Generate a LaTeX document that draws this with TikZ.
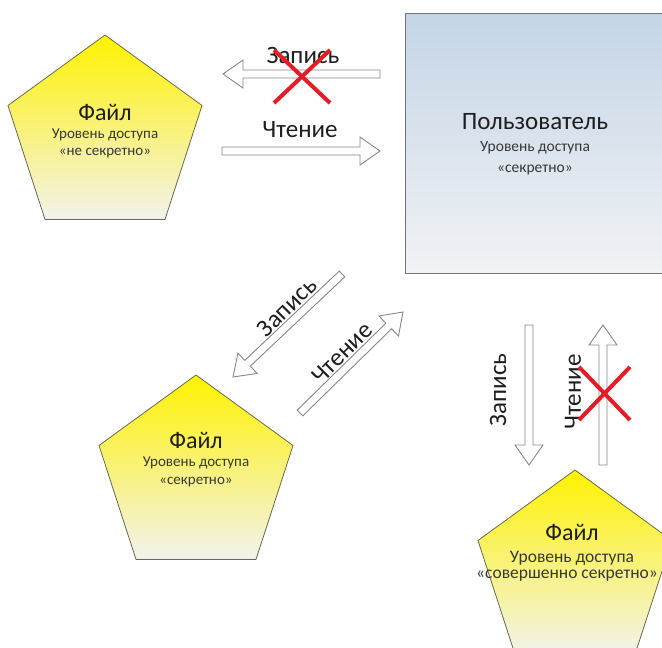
\documentclass[tikz,border=0pt]{standalone}
\usepackage{fontspec}
\setmainfont{Carlito}
\usetikzlibrary{shapes.geometric,calc}

\definecolor{fileTop}{RGB}{255,242,0}
\definecolor{fileMid}{RGB}{247,242,105}
\definecolor{fileBot}{RGB}{242,242,238}
\definecolor{fileEdge}{RGB}{105,105,80}
\definecolor{userTop}{RGB}{196,213,230}
\definecolor{userBot}{RGB}{241,242,244}
\definecolor{userEdge}{RGB}{115,115,115}
\definecolor{arrowEdge}{RGB}{135,135,135}
\definecolor{crossRed}{RGB}{228,28,38}
\definecolor{ink}{RGB}{30,30,30}
\definecolor{subink}{RGB}{55,55,55}

\tikzset{
  filebox/.style={regular polygon, regular polygon sides=5, minimum size=204pt,
    inner sep=0pt, outer sep=0pt, draw=fileEdge, line width=0.8pt,
    top color=fileTop, middle color=fileMid, bottom color=fileBot},
  userbox/.style={rectangle, minimum width=265pt, minimum height=260pt,
    inner sep=0pt, outer sep=0pt, draw=userEdge, line width=1pt,
    top color=userTop, bottom color=userBot},
  title/.style={font=\fontsize{24}{28}\selectfont, text=ink, inner sep=0pt},
  bigtitle/.style={font=\fontsize{25}{30}\selectfont, text=ink, inner sep=0pt},
  sub/.style={font=\fontsize{15}{18}\selectfont, text=subink, inner sep=0pt},
  bigsub/.style={font=\fontsize{17.5}{21}\selectfont, text=subink, inner sep=0pt},
  usersub/.style={font=\fontsize{15.5}{19}\selectfont, text=subink, inner sep=0pt},
  lbl/.style={font=\fontsize{25}{30}\selectfont, text=ink, inner sep=0pt},
  blockarrow/.style={draw=arrowEdge, fill=white, line width=0.9pt, line join=miter},
  cross/.style={draw=crossRed, line width=4pt}
}

% hollow block arrow from #1 (tail) to #2 (tip)
\newcommand{\hollowarrow}[2]{%
  \coordinate (hh) at ($(#2)!20pt!(#1)$);
  \filldraw[blockarrow] ($(#1)!4pt!90:(#2)$) -- ($(hh)!4pt!90:(#2)$)
    -- ($(hh)!14pt!90:(#2)$) -- (#2) -- ($(hh)!14pt!-90:(#2)$)
    -- ($(hh)!4pt!-90:(#2)$) -- ($(#1)!4pt!-90:(#2)$) -- cycle;}

\begin{document}
\begin{tikzpicture}[x=1pt,y=-1pt]
\useasboundingbox (0,0) rectangle (662,648);
\begin{scope}
\clip (0,0) rectangle (662,648);

% user
\node[userbox] (user) at (537.5,143) {};
\node[bigtitle] (userT) at (535,122) {Пользователь};
\node[usersub] (userL) at (535,148) {Уровень доступа};
\node[usersub] (userC) at (535,170) {«секретно»};

% files
\node[filebox] (f1) at (105,137) {};
\node[title] (f1T) at (105,112) {Файл};
\node[sub] (f1L) at (105,135) {Уровень доступа};
\node[sub] (f1C) at (105,153) {«не секретно»};

\node[filebox] (f2) at (196,477) {};
\node[title] (f2T) at (196,440) {Файл};
\node[sub] (f2L) at (196,463) {Уровень доступа};
\node[sub] (f2C) at (196,482) {«секретно»};

\node[filebox] (f3) at (575,572) {};
\node[title] (f3T) at (572,532) {Файл};
\node[bigsub] (f3L) at (572,558) {Уровень доступа};
\node[bigsub] (f3C) at (567,576) {«совершенно секретно»};

% arrow ends
\coordinate (w1a) at (380,74);  \coordinate (w1b) at (223,74);
\coordinate (r1a) at (222,151); \coordinate (r1b) at (380,151);
\coordinate (w2a) at (342,274); \coordinate (w2b) at (233,377);
\coordinate (r2a) at (300,413); \coordinate (r2b) at (403,312);
\coordinate (w3a) at (529,325); \coordinate (w3b) at (529,465);
\coordinate (r3a) at (603,465); \coordinate (r3b) at (603,325);

\hollowarrow{w1a}{w1b}
\hollowarrow{r1a}{r1b}
\hollowarrow{w2a}{w2b}
\hollowarrow{r2a}{r2b}
\hollowarrow{w3a}{w3b}
\hollowarrow{r3a}{r3b}

% labels
\node[lbl] (w1L) at (303,55) {Запись};
\node[lbl] (r1L) at (300,130) {Чтение};
\node[lbl, rotate=45] (w2L) at (287,307) {Запись};
\node[lbl, rotate=45] (r2L) at (342,353) {Чтение};
\node[lbl, rotate=90] (w3L) at (498,390) {Запись};
\node[lbl, rotate=90] (r3L) at (573,392) {Чтение};

% forbidden flows
\coordinate (x1a) at (274,50);  \coordinate (x1b) at (330,103);
\coordinate (x1c) at (330,50);  \coordinate (x1d) at (274,103);
\draw[cross] (x1a) -- (x1b);
\draw[cross] (x1c) -- (x1d);
\coordinate (x2a) at (579,367); \coordinate (x2b) at (630,420);
\coordinate (x2c) at (630,367); \coordinate (x2d) at (579,420);
\draw[cross] (x2a) -- (x2b);
\draw[cross] (x2c) -- (x2d);
\end{scope}
\end{tikzpicture}
\end{document}
